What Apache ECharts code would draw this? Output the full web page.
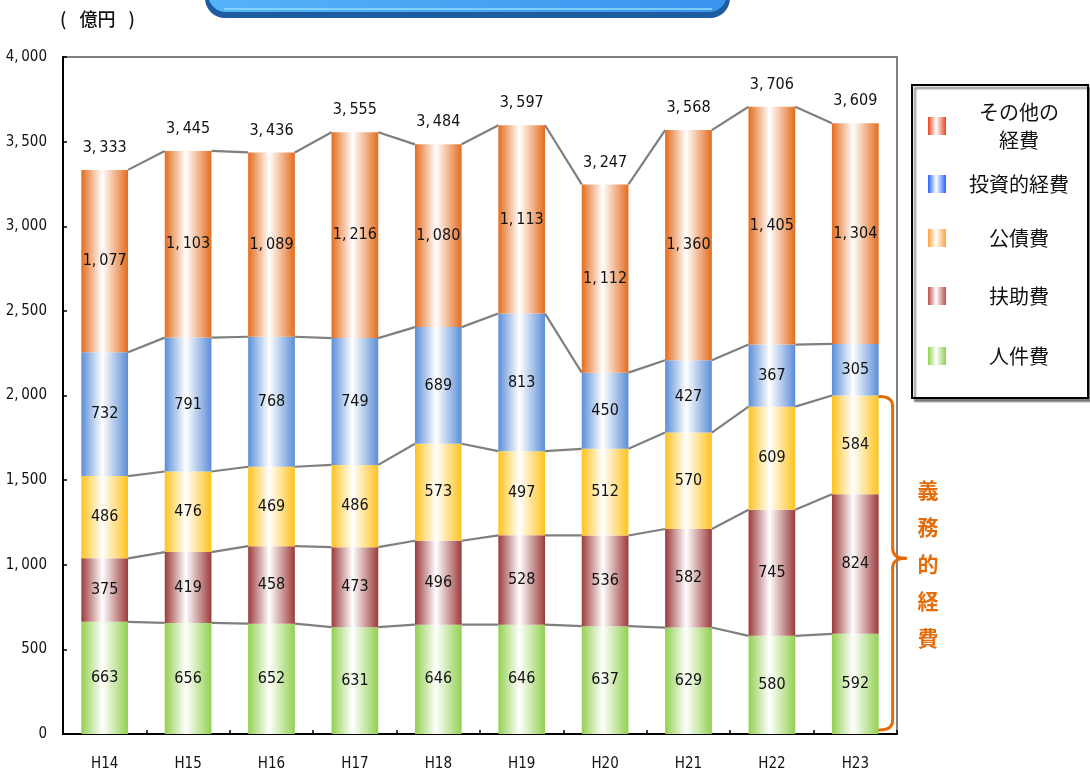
<!DOCTYPE html>
<html>
<head>
<meta charset="utf-8">
<script src="https://cdn.jsdelivr.net/npm/echarts@6/dist/echarts.min.js"></script>
<style>
  html, body { margin: 0; padding: 0; background: #fff; }
  #chart { width: 1090px; height: 772px; }
</style>
</head>
<body>
<div id="chart"></div>
<script>
// 年度
const years = ['H14', 'H15', 'H16', 'H17', 'H18', 'H19', 'H20', 'H21', 'H22', 'H23'];

// 歳出内訳（億円）
const jinkenhi  = [663, 656, 652, 631, 646, 646, 637, 629, 580, 592];   // 人件費
const fujohi    = [375, 419, 458, 473, 496, 528, 536, 582, 745, 824];   // 扶助費
const kosaihi   = [486, 476, 469, 486, 573, 497, 512, 570, 609, 584];   // 公債費
const toshiteki = [732, 791, 768, 749, 689, 813, 450, 427, 367, 305];   // 投資的経費
const sonota    = [1077, 1103, 1089, 1216, 1080, 1113, 1112, 1360, 1405, 1304]; // その他の経費

const yTicks = [0, 500, 1000, 1500, 2000, 2500, 3000, 3500, 4000];

const NARROW = '"Liberation Sans Narrow", "DejaVu Sans Condensed", "Roboto Condensed", sans-serif';
const CJK = '"Noto Sans CJK JP", "Noto Sans", sans-serif';
const BAR_RATIO = 0.56;

const fmt = v => {
  const s = String(v);
  return s.length > 3 ? s.slice(0, s.length - 3) + ',\u2009' + s.slice(-3) : s;
};

const grad = c => new echarts.graphic.LinearGradient(0, 0, 1, 0, [
  { offset: 0, color: c },
  { offset: 0.45, color: '#ffffff' },
  { offset: 1, color: c }
]);

const stackDefs = [
  { name: '人件費',       data: jinkenhi,  color: '#92D050', legendColor: '#92D050' },
  { name: '扶助費',       data: fujohi,    color: '#9C3B3B', legendColor: '#C0504D' },
  { name: '公債費',       data: kosaihi,   color: '#FFC21D', legendColor: '#FFA23E' },
  { name: '投資的経費',   data: toshiteki, color: '#5B8ED7', legendColor: '#2563FF' },
  { name: 'その他の経費', data: sonota,    color: '#E46C1D', legendColor: '#E8441E' }
];

// cumulative tops of each stacked segment
const cumul = [];
stackDefs.forEach((s, k) => {
  cumul.push(s.data.map((v, i) => v + (k > 0 ? cumul[k - 1][i] : 0)));
});
const totals = cumul[cumul.length - 1];

// connector data: [i, tops at i..., tops at i+1...]
const linkData = [];
for (let i = 0; i < years.length - 1; i++) {
  linkData.push([i].concat(cumul.map(c => c[i]), cumul.map(c => c[i + 1])));
}
const totalData = totals.map((t, i) => [i, t]);

const barSeries = stackDefs.map(s => ({
  name: s.name,
  type: 'bar',
  stack: 'total',
  barWidth: (BAR_RATIO * 100) + '%',
  data: s.data,
  itemStyle: { color: grad(s.color) },
  label: {
    show: true,
    position: 'inside',
    formatter: p => fmt(p.value),
    fontFamily: NARROW,
    fontSize: 16,
    color: '#111'
  },
  z: 3
}));

const nLevels = stackDefs.length;

// one legend entry per block so the entries sit at their own heights
const legendCenters = [130, 188, 242, 300, 360];
const legends = stackDefs.slice().reverse().map((s, i) => {
  const twoLine = s.name === 'その他の経費';
  return {
    orient: 'vertical',
    left: 928,
    top: legendCenters[i] - (twoLine ? 28 : 14),
    padding: 0,
    icon: 'rect',
    itemWidth: 18, itemHeight: 18,
    selectedMode: false,
    data: [{ name: s.name, itemStyle: { color: grad(s.legendColor) } }],
    formatter: name => twoLine ? '{a|その他の}\n{a|経費}' : '{a|' + name + '}',
    textStyle: {
      rich: {
        a: { width: 136, align: 'center', lineHeight: 28, fontSize: 20, fontFamily: CJK, color: '#111' }
      }
    },
    z: 6
  };
});

const chart = echarts.init(document.getElementById('chart'), null, { renderer: 'canvas' });

chart.setOption({
  animation: false,
  backgroundColor: '#ffffff',
  grid: {
    left: 63, right: 193, top: 57, bottom: 38,
    show: true, borderColor: '#808080', borderWidth: 2
  },
  legend: legends,
  xAxis: {
    type: 'category',
    data: years,
    axisLine: { lineStyle: { color: '#000', width: 2 } },
    axisTick: { show: true, inside: true, length: 4, lineStyle: { color: '#000', width: 1.5 } },
    axisLabel: { fontFamily: NARROW, fontSize: 15, color: '#111', margin: 23 }
  },
  yAxis: {
    type: 'value',
    min: yTicks[0], max: yTicks[yTicks.length - 1], interval: yTicks[1] - yTicks[0],
    axisLine: { show: true, lineStyle: { color: '#000', width: 2 } },
    axisTick: { show: true, inside: true, length: 4, lineStyle: { color: '#000', width: 1.5 } },
    splitLine: { show: false },
    axisLabel: { fontFamily: NARROW, fontSize: 15, color: '#111', margin: 16, formatter: v => fmt(v) }
  },
  series: barSeries.concat([
    {
      name: 'connectors',
      type: 'custom',
      data: linkData,
      encode: { x: 0, y: 1 },
      z: 2,
      silent: true,
      renderItem: (params, api) => {
        const i = api.value(0);
        const half = api.size([1, 0])[0] * BAR_RATIO / 2;
        const children = [];
        for (let k = 0; k < nLevels; k++) {
          const a = api.coord([i, api.value(1 + k)]);
          const b = api.coord([i + 1, api.value(1 + nLevels + k)]);
          children.push({
            type: 'line',
            shape: { x1: a[0] + half, y1: a[1], x2: b[0] - half, y2: b[1] },
            style: { stroke: '#7F7F7F', lineWidth: 2.2 }
          });
        }
        return { type: 'group', children };
      }
    },
    {
      name: 'totals',
      type: 'custom',
      data: totalData,
      encode: { x: 0, y: 1 },
      z: 4,
      silent: true,
      renderItem: (params, api) => {
        const p = api.coord([api.value(0), api.value(1)]);
        return {
          type: 'text',
          style: {
            x: p[0], y: p[1] - 22,
            text: fmt(api.value(1)),
            align: 'center', verticalAlign: 'middle',
            font: '16px ' + NARROW,
            fill: '#111'
          }
        };
      }
    }
  ])
});

// brace for 義務的経費 (人件費 + 扶助費 + 公債費) beside the last bar
const last = years.length - 1;
const gimuTop = cumul[2][last];
const pTop = chart.convertToPixel({ xAxisIndex: 0, yAxisIndex: 0 }, [last, gimuTop]);
const pBot = chart.convertToPixel({ xAxisIndex: 0, yAxisIndex: 0 }, [last, 0]);
const band = chart.convertToPixel({ xAxisIndex: 0 }, 1) - chart.convertToPixel({ xAxisIndex: 0 }, 0);
const x0 = pTop[0] + band * BAR_RATIO / 2 + 1;
const x1 = x0 + 13;
const x2 = x1 + 13;
const yT = pTop[1] + 1;
const yB = pBot[1] - 4;
const yM = (yT + yB) / 2 - 5;
const r = 10;
const braceStyle = { stroke: '#E46C0A', lineWidth: 3, fill: null, lineCap: 'round' };
const braceParts = [
  { type: 'bezierCurve', shape: { x1: x0, y1: yT, cpx1: x1, cpy1: yT, x2: x1, y2: yT + r } },
  { type: 'line', shape: { x1: x1, y1: yT + r, x2: x1, y2: yM - r } },
  { type: 'bezierCurve', shape: { x1: x1, y1: yM - r, cpx1: x1, cpy1: yM, x2: x2, y2: yM } },
  { type: 'bezierCurve', shape: { x1: x2, y1: yM, cpx1: x1, cpy1: yM, x2: x1, y2: yM + r } },
  { type: 'line', shape: { x1: x1, y1: yM + r, x2: x1, y2: yB - r } },
  { type: 'bezierCurve', shape: { x1: x1, y1: yB - r, cpx1: x1, cpy1: yB, x2: x0, y2: yB } }
].map(p => Object.assign(p, { silent: true, z: 20, style: braceStyle }));

chart.setOption({
  graphic: [
    // title plate at the top edge
    {
      type: 'rect', silent: true, z: 10,
      shape: { x: 205, y: -40, width: 525, height: 58, r: [0, 0, 20, 20] },
      style: { fill: '#1F5C9F' }
    },
    {
      type: 'rect', silent: true, z: 11,
      shape: { x: 208, y: -40, width: 519, height: 52, r: [0, 0, 18, 18] },
      style: {
        fill: new echarts.graphic.LinearGradient(0, 0, 1, 0, [
          { offset: 0, color: '#55B3F8' },
          { offset: 1, color: '#3A93EE' }
        ])
      }
    },
    {
      type: 'line', silent: true, z: 12,
      shape: { x1: 224, y1: 9, x2: 712, y2: 9 },
      style: { stroke: '#8FE0FF', lineWidth: 1.5 }
    },
    // unit
    {
      type: 'text', silent: true, z: 12, x: 60, y: 19,
      style: {
        text: '( \u2002億円\u2002 )', font: '500 18px ' + CJK, fill: '#111',
        align: 'left', verticalAlign: 'middle'
      }
    },
    // legend frame
    {
      type: 'rect', silent: true, z: 1,
      shape: { x: 912, y: 85, width: 176, height: 313 },
      style: {
        fill: '#fff', stroke: '#000', lineWidth: 2,
        shadowColor: 'rgba(0,0,0,0.45)', shadowBlur: 2, shadowOffsetX: 3, shadowOffsetY: 3
      }
    },
    // caption for the brace
    {
      type: 'text', silent: true, z: 20,
      x: 928, y: yM + 6,
      style: {
        text: '義\n務\n的\n経\n費',
        font: 'bold 21px ' + CJK,
        lineHeight: 37,
        fill: '#E46C0A',
        align: 'center', verticalAlign: 'middle'
      }
    }
  ].concat(braceParts)
});
</script>
</body>
</html>
